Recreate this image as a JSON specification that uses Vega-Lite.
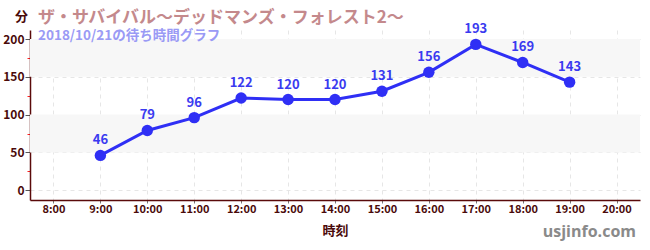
{
  "$schema": "https://vega.github.io/schema/vega-lite/v6.json",
  "autosize": {"type": "none"},
  "width": 610,
  "height": 170,
  "padding": {"left": 30, "top": 30, "right": 10, "bottom": 50},
  "background": "#ffffff",
  "config": {
    "font": "Noto Sans CJK JP",
    "view": {"stroke": null}
  },
  "title": {
    "text": "ザ・サバイバル〜デッドマンズ・フォレスト2〜",
    "subtitle": "2018/10/21の待ち時間グラフ",
    "anchor": "start",
    "frame": "group",
    "orient": "top",
    "offset": -33,
    "dx": 8,
    "font": "Noto Sans CJK JP",
    "fontSize": 17,
    "fontWeight": "bold",
    "color": "#c4898c",
    "subtitleFont": "Noto Sans CJK JP",
    "subtitleFontSize": 13.5,
    "subtitleFontWeight": "bold",
    "subtitleColor": "#9a9af5",
    "subtitlePadding": 2
  },
  "datasets": {
    "bands": [{"lo": 50, "hi": 100}, {"lo": 150, "hi": 200}],
    "waits": [
      {"hour": 9, "wait": 46},
      {"hour": 10, "wait": 79},
      {"hour": 11, "wait": 96},
      {"hour": 12, "wait": 122},
      {"hour": 13, "wait": 120},
      {"hour": 14, "wait": 120},
      {"hour": 15, "wait": 131},
      {"hour": 16, "wait": 156},
      {"hour": 17, "wait": 193},
      {"hour": 18, "wait": 169},
      {"hour": 19, "wait": 143}
    ],
    "credit": [{"site": "usjinfo.com", "hour": 20.5, "pos": -56}]
  },
  "resolve": {"axis": {"y": "independent", "x": "independent"}},
  "layer": [
    {
      "data": {"name": "bands"},
      "mark": {"type": "rect", "color": "#f7f7f7"},
      "encoding": {
        "y": {"field": "lo", "type": "quantitative", "scale": {"domain": [-13, 212], "nice": false, "zero": false},
          "axis": {
            "orient": "left",
            "values": [25, 75, 125, 175],
            "labels": false,
            "domain": false,
            "grid": false,
            "ticks": true,
            "tickColor": "#ff2020",
            "tickSize": 3,
            "title": null
          }},
        "y2": {"field": "hi"}
      }
    },
    {
      "data": {"name": "waits"},
      "mark": {"type": "line", "color": "#2f2ff5", "strokeWidth": 3},
      "encoding": {
        "x": {"field": "hour", "type": "quantitative",
          "scale": {"domain": [7.5, 20.5], "nice": false, "zero": false},
          "axis": {
            "values": [8, 9, 10, 11, 12, 13, 14, 15, 16, 17, 18, 19, 20],
            "labelExpr": "datum.value + ':00'",
            "domainColor": "#5a0a0a",
            "domainWidth": 1.5,
            "tickColor": "#777777",
            "tickSize": 3,
            "labelColor": "#4a0a0a",
            "labelFontSize": 11,
            "labelFontWeight": "bold",
            "labelPadding": 0,
            "grid": true,
            "gridColor": "#e6e6e6",
            "gridDash": [4, 4],
            "title": "時刻",
            "titleColor": "#4a0a0a",
            "titleFontSize": 13,
            "titleFontWeight": "bold",
            "titlePadding": 10
          }},
        "y": {"field": "wait", "type": "quantitative",
          "scale": {"domain": [-13, 212], "nice": false, "zero": false},
          "axis": {
            "orient": "left",
            "values": [0, 50, 100, 150, 200],
            "domainColor": "#5a0a0a",
            "domainWidth": 1.5,
            "tickColor": "#555555",
            "tickSize": 5,
            "labelColor": "#4a0a0a",
            "labelFontSize": 12,
            "labelFontWeight": "bold",
            "labelPadding": 1,
            "grid": true,
            "gridColor": "#e6e6e6",
            "gridDash": [4, 4],
            "title": "分",
            "titleAngle": 0,
            "titleX": -9,
            "titleY": -14,
            "titleAlign": "center",
            "titleBaseline": "middle",
            "titleColor": "#4a0a0a",
            "titleFontSize": 13,
            "titleFontWeight": "bold"
          }}
      }
    },
    {
      "data": {"name": "waits"},
      "mark": {"type": "point", "filled": true, "size": 130, "color": "#2f2ff5", "opacity": 1},
      "encoding": {
        "x": {"field": "hour", "type": "quantitative", "axis": null},
        "y": {"field": "wait", "type": "quantitative", "axis": null}
      }
    },
    {
      "data": {"name": "waits"},
      "mark": {"type": "text", "color": "#3a3af0", "fontSize": 13, "fontWeight": "bold", "baseline": "bottom", "dy": -8},
      "encoding": {
        "x": {"field": "hour", "type": "quantitative", "axis": null},
        "y": {"field": "wait", "type": "quantitative", "axis": null},
        "text": {"field": "wait", "type": "quantitative"}
      }
    },
    {
      "data": {"name": "credit"},
      "mark": {"type": "text", "align": "right", "baseline": "middle", "dx": -4, "fontSize": 16, "fontWeight": "bold", "color": "#8a8a8a", "font": "Open Sans"},
      "encoding": {
        "x": {"field": "hour", "type": "quantitative", "axis": null},
        "y": {"field": "pos", "type": "quantitative", "axis": null},
        "text": {"field": "site"}
      }
    }
  ]
}
